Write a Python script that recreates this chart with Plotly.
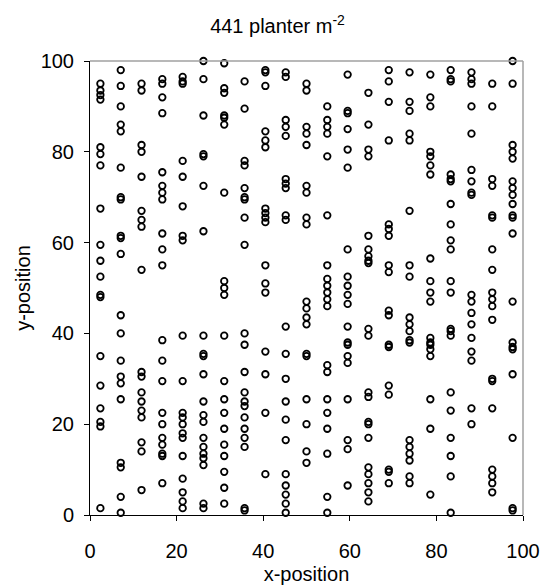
import plotly.graph_objects as go

# Column positions (x) of the planting rows
col_x = [2.4, 7.1, 11.9, 16.7, 21.4, 26.2, 31.0, 35.7, 40.5, 45.2, 50.0,
         54.8, 59.5, 64.3, 69.0, 73.8, 78.6, 83.3, 88.1, 92.9, 97.6]

# y-positions of the plants in each row
y_c01 = [95, 93.5, 92.5, 91.5, 81, 79.5, 77, 67.5, 59.5, 56, 52.5, 48.5, 48, 35, 28.5, 23.5, 20.5, 19.5, 1.5]
y_c02 = [98, 94.5, 90, 86, 84.5, 76.5, 70, 69.5, 61.5, 61, 57.5, 44, 40, 34, 30.5, 29, 25.5, 11.5, 10.5, 4, 0.5]
y_c03 = [95, 93.5, 81.5, 80, 74.5, 67, 65, 63.5, 54, 31.5, 30.5, 27, 25, 23, 21.5, 16, 14, 5.5]
y_c04 = [96, 95, 92, 88.5, 75.5, 72.5, 71, 69.5, 62, 58.5, 55, 38.5, 34, 29.5, 22.5, 20, 17, 15.5, 13.5, 13, 7]
y_c05 = [96.5, 95.5, 95, 78, 74.5, 68, 61.5, 60.5, 39.5, 29.5, 22.5, 21.5, 20, 18, 17, 13, 8, 5, 3, 1.5]
y_c06 = [100, 96, 88, 79.5, 79, 72.5, 62.5, 39.5, 35.5, 35, 31, 25, 22, 20.5, 17, 15, 13.5, 12.5, 11, 2.5, 1.5]
y_c07 = [99.5, 94, 93, 88, 87.5, 86, 71, 51.5, 50, 48.5, 39.5, 29.5, 25.5, 22.5, 19, 15.5, 13, 9.5, 6, 2.5]
y_c08 = [95.5, 89.5, 78, 77, 72, 70, 69.5, 65.5, 59.5, 40, 37.5, 31.5, 27, 25, 24, 21.5, 19, 17, 15, 1.5, 1]
y_c09 = [98, 97.5, 94.5, 84.5, 82.5, 81, 67.5, 66.5, 65.5, 64.5, 55, 51, 49, 36, 31, 22.5, 9]
y_c10 = [97.5, 96.5, 87, 85.5, 83.5, 74, 73, 72, 66, 65, 41.5, 35.5, 30, 25, 21, 16.5, 9, 6.5, 4.5, 2.5, 0.5]
y_c11 = [95, 93.5, 85.5, 84, 81.5, 72.5, 71, 65.5, 64, 47, 45.5, 43.5, 42, 35.5, 35, 25.5, 20, 14, 11.5]
y_c12 = [90, 87, 85.5, 84, 79, 66, 55, 52, 50.5, 49, 47.5, 46, 33, 31.5, 25.5, 22.5, 19, 13.5, 4, 0.5]
y_c13 = [97, 89, 88.5, 85, 80.5, 76.5, 58.5, 52.5, 50.5, 48.5, 46.5, 41.5, 38, 37.5, 35, 33.5, 25.5, 16.5, 14.5, 6.5]
y_c14 = [93, 86, 80.5, 79, 61.5, 58.5, 57, 56, 55.5, 41, 39.5, 27, 26, 20.5, 20, 17, 10.5, 9, 7, 5, 3]
y_c15 = [98, 95.5, 91, 82.5, 64, 63, 61.5, 55, 53.5, 45, 44, 37.5, 37, 28.5, 26.5, 10, 9.5, 7]
y_c16 = [97.5, 91, 89, 84, 82.5, 67, 55, 52.5, 43.5, 42, 40.5, 38.5, 38, 16.5, 15, 13.5, 12, 8.5, 7]
y_c17 = [97, 92, 90, 80, 79, 77, 75, 56.5, 51.5, 49, 47, 39, 38, 37.5, 36.5, 35, 25.5, 19, 4.5]
y_c18 = [98, 96, 95.5, 75, 74, 73.5, 68.5, 64, 60.5, 58.5, 51.5, 49, 41, 40.5, 39.5, 27, 23, 17, 13, 8.5, 0.5]
y_c19 = [97.5, 96, 95, 90, 84, 76, 73.5, 71, 70.5, 48.5, 47, 44.5, 42, 39, 36, 34, 23.5, 20]
y_c20 = [95, 90, 74, 72.5, 66, 65.5, 58.5, 54, 49, 47.5, 46, 43, 30, 29.5, 23.5, 10, 8.5, 7, 5]
y_c21 = [100, 95, 81.5, 80, 78.5, 73.5, 72, 70.5, 68.5, 66, 65.5, 62, 47, 38, 37, 36.5, 31, 17, 1.5, 1]

x_ticks = [0, 20, 40, 60, 80, 100]
y_ticks = [0, 20, 40, 60, 80, 100]

rows = [y_c01, y_c02, y_c03, y_c04, y_c05, y_c06, y_c07, y_c08, y_c09, y_c10, y_c11,
        y_c12, y_c13, y_c14, y_c15, y_c16, y_c17, y_c18, y_c19, y_c20, y_c21]

xs, ys = [], []
for cx, col in zip(col_x, rows):
    xs.extend([cx] * len(col))
    ys.extend(col)

font_family = "Liberation Sans, Arial, sans-serif"

fig = go.Figure(go.Scatter(
    x=xs, y=ys, mode="markers", cliponaxis=False,
    marker=dict(symbol="circle-open", size=6.5, color="black",
                line=dict(color="black", width=1.8)),
    hoverinfo="x+y",
))

fig.update_layout(
    width=555, height=587,
    margin=dict(l=90, r=32, t=61, b=72),
    paper_bgcolor="white", plot_bgcolor="white",
    showlegend=False,
    font=dict(family=font_family, color="black", size=20),
    title=dict(text="441 planter m<sup>-2</sup>", x=0.5, xanchor="center",
               y=0.955, yanchor="middle", font=dict(size=20)),
)

fig.update_xaxes(
    range=[0, 100], tickvals=x_ticks, showgrid=False, zeroline=False,
    showline=True, linecolor="black", linewidth=1, mirror=False,
    ticks="outside", ticklen=5, tickcolor="black", ticklabelstandoff=13,
    tickfont=dict(size=20), automargin=False,
    title=dict(text="x-position", standoff=5, font=dict(size=20)),
)
fig.update_yaxes(
    range=[0, 100], tickvals=y_ticks, showgrid=False, zeroline=False,
    showline=True, linecolor="black", linewidth=1, mirror=False,
    ticks="outside", ticklen=5, tickcolor="black", ticklabelstandoff=6,
    tickfont=dict(size=20), automargin=False,
    title=dict(text="y-position", standoff=4, font=dict(size=20)),
)

# Grey frame on the top and right sides of the plot area
fig.add_shape(type="line", xref="paper", yref="paper", x0=0, x1=1, y0=1, y1=1,
              line=dict(color="#a0a0a0", width=1.5))
fig.add_shape(type="line", xref="paper", yref="paper", x0=1, x1=1, y0=0, y1=1,
              line=dict(color="#a0a0a0", width=1.5))

fig.write_html("out.html")
